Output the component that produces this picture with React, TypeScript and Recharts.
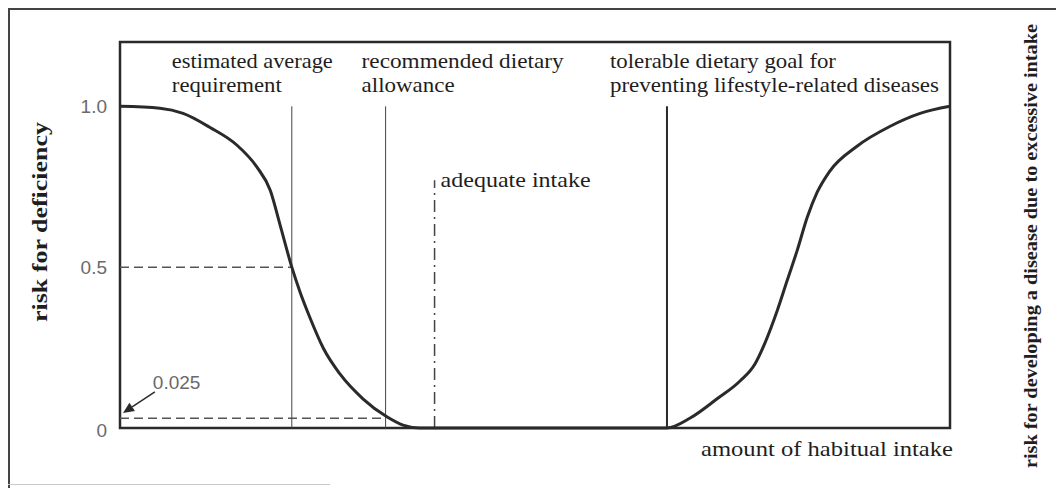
import React from 'react';
import {
    LineChart,
    Line,
    XAxis,
    YAxis,
    ReferenceLine,
    ReferenceArea,
} from 'recharts';

// amount of habitual intake (arbitrary 0-100 scale) and risk
const intake = [0, 4.8, 7.6, 10.8, 14.1, 16.5, 18.1, 19.3, 20.7, 21.7, 22.9, 24.5, 26.5, 29.3, 32.2, 34.1, 36.1,
    65.9, 68.7, 71.9, 74.7, 76.5, 77.7, 79.2, 80.4, 81.6, 82.8, 84.0, 85.5, 88.8, 92.8, 96.4, 100];
const risk = [1.0, 0.994, 0.978, 0.935, 0.879, 0.811, 0.739, 0.63, 0.5, 0.422, 0.342, 0.248, 0.168, 0.09, 0.034, 0.009, 0,
    0, 0.031, 0.09, 0.146, 0.199, 0.264, 0.366, 0.46, 0.553, 0.655, 0.733, 0.798, 0.876, 0.938, 0.978, 1.0];

const yTicks = [0, 0.5, 1];
const yTickLabels = ['0', '0.5', '1.0'];

// reference intakes
const EAR = 20.7;
const RDA = 32.0;
const AI = 37.9;
const DG = 65.9;
const AI_TOP = 0.77;
const LOW_RISK = 0.03;

const data = intake.map((x, i) => ({ x, risk: risk[i] }));

const INK = '#2a2a2a';
const TXT = '#1e1e1e';
const SERIF = 'Liberation Serif, Times New Roman, serif';
const SANS = 'Liberation Sans, Arial, sans-serif';

type Row = { text: string; len: number; dy: number };

const annotation = (rows: Row[], dx: number) => (props: any) => {
    const { x, y } = props.viewBox;
    return (
        <g>
            {rows.map((r) => (
                <text
                    key={r.text}
                    x={x + dx}
                    y={y + r.dy}
                    style={{ fontFamily: SERIF, fontSize: 21 }}
                    fill={TXT}
                    textLength={r.len}
                    lengthAdjust="spacingAndGlyphs"
                >
                    {r.text}
                </text>
            ))}
        </g>
    );
};

const leftTick = (props: any) => {
    const { x, y, payload } = props;
    const i = yTicks.indexOf(payload.value);
    return (
        <text x={x} y={y} dy={payload.value === 0 ? 9 : 7} textAnchor="end" style={{ fontFamily: SANS, fontSize: 19 }} fill="#6a6a6a">
            {yTickLabels[i]}
        </text>
    );
};

const rightTick = (props: any) => {
    const { x, y, payload } = props;
    const i = yTicks.indexOf(payload.value);
    return (
        <text x={payload.value === 0 ? x + 9 : x} y={y} dy={payload.value === 0 ? 10 : 7} textAnchor="start" style={{ fontFamily: SANS, fontSize: 19 }} fill="#6a6a6a">
            {yTickLabels[i]}
        </text>
    );
};

const arrowShape = (props: any) => {
    const { x1, y1, x2, y2 } = props;
    const ang = Math.atan2(y2 - y1, x2 - x1);
    const L = 11;
    const W = 5;
    const bx = x2 - L * Math.cos(ang);
    const by = y2 - L * Math.sin(ang);
    const px = -Math.sin(ang) * W;
    const py = Math.cos(ang) * W;
    return (
        <g>
            <line x1={x1} y1={y1} x2={bx} y2={by} stroke={INK} strokeWidth={1.5} />
            <polygon points={`${x2},${y2} ${bx + px},${by + py} ${bx - px},${by - py}`} fill={INK} />
            <text x={x1 - 2} y={y1 - 3} style={{ fontFamily: SANS, fontSize: 19 }} fill="#6a6a6a">0.025</text>
        </g>
    );
};

const App: React.FC = () => {
    return (
        <div style={{ position: 'absolute', left: 0, top: 0, width: 1056, height: 488, background: '#fff', overflow: 'hidden' }}>
            <div style={{ position: 'absolute', left: 8, top: 8, width: 1060, height: 490, borderTop: '2px solid #444', borderLeft: '2px solid #444' }} />
            <div style={{ position: 'absolute', left: 8, top: 484, width: 322, height: 0, borderTop: '1px solid #c8c8c8' }} />
            <div style={{ position: 'absolute', left: 0, top: 0 }}>
                <LineChart width={1056} height={488} data={data} margin={{ top: 42, right: 66, bottom: 30, left: 80 }}>
                    <XAxis
                        dataKey="x"
                        type="number"
                        domain={[0, 100]}
                        tick={false}
                        axisLine={false}
                        tickLine={false}
                        height={30}
                        label={{
                            content: (p: any) => (
                                <text
                                    x={p.viewBox.x + p.viewBox.width + 3}
                                    y={p.viewBox.y + 28}
                                    textAnchor="end"
                                    style={{ fontFamily: SERIF, fontSize: 21 }}
                                    fill={TXT}
                                    textLength={252}
                                    lengthAdjust="spacingAndGlyphs"
                                >
                                    amount of habitual intake
                                </text>
                            ),
                        }}
                    />
                    <YAxis
                        yAxisId="left"
                        domain={[0, 1.2]}
                        ticks={yTicks}
                        width={40}
                        axisLine={false}
                        tickLine={false}
                        tickSize={0}
                        tickMargin={13}
                        tick={leftTick}
                        label={{
                            content: (p: any) => (
                                <text
                                    transform={`translate(${p.viewBox.x - 33},222) rotate(-90)`}
                                    textAnchor="middle"
                                    style={{ fontFamily: SERIF, fontSize: 21, fontWeight: 'bold' }}
                                    fill={TXT}
                                    textLength={200}
                                    lengthAdjust="spacingAndGlyphs"
                                >
                                    risk for deficiency
                                </text>
                            ),
                        }}
                    />
                    <YAxis
                        yAxisId="right"
                        orientation="right"
                        domain={[0, 1.2]}
                        ticks={yTicks}
                        width={40}
                        axisLine={false}
                        tickLine={{ stroke: INK, strokeWidth: 2 }}
                        tickSize={5}
                        tickMargin={3}
                        tick={rightTick}
                        label={{
                            content: (p: any) => (
                                <text
                                    transform={`translate(${p.viewBox.x + 87},246) rotate(-90)`}
                                    textAnchor="middle"
                                    style={{ fontFamily: SERIF, fontSize: 19, fontWeight: 'bold' }}
                                    fill={TXT}
                                    textLength={444}
                                    lengthAdjust="spacingAndGlyphs"
                                >
                                    risk for developing a disease due to excessive intake
                                </text>
                            ),
                        }}
                    />

                    <ReferenceArea yAxisId="left" x1={0} x2={100} y1={0} y2={1.2} fill="none" stroke={INK} strokeWidth={2.5} />

                    <ReferenceLine
                        yAxisId="left"
                        segment={[{ x: 0, y: 0.5 }, { x: EAR, y: 0.5 }]}
                        stroke="#555"
                        strokeWidth={1.5}
                        strokeDasharray="9 5"
                    />
                    <ReferenceLine
                        yAxisId="left"
                        segment={[{ x: 0, y: LOW_RISK }, { x: RDA, y: LOW_RISK }]}
                        stroke="#555"
                        strokeWidth={1.5}
                        strokeDasharray="9 5"
                    />
                    <ReferenceLine
                        yAxisId="left"
                        segment={[{ x: EAR, y: 0 }, { x: EAR, y: 1 }]}
                        stroke="#444"
                        strokeWidth={1}
                        label={{
                            content: annotation([
                                { text: 'estimated average', len: 161, dy: -38 },
                                { text: 'requirement', len: 110, dy: -14 },
                            ], -120),
                        }}
                    />
                    <ReferenceLine
                        yAxisId="left"
                        segment={[{ x: RDA, y: 0 }, { x: RDA, y: 1 }]}
                        stroke="#444"
                        strokeWidth={1}
                        label={{
                            content: annotation([
                                { text: 'recommended dietary', len: 202, dy: -38 },
                                { text: 'allowance', len: 93, dy: -14 },
                            ], -24),
                        }}
                    />
                    <ReferenceLine
                        yAxisId="left"
                        segment={[{ x: AI, y: 0 }, { x: AI, y: AI_TOP }]}
                        stroke="#444"
                        strokeWidth={1.5}
                        strokeDasharray="12 5 2 5"
                        label={{
                            content: annotation([{ text: 'adequate intake', len: 150, dy: 7 }], 6),
                        }}
                    />
                    <ReferenceLine
                        yAxisId="left"
                        segment={[{ x: DG, y: 0 }, { x: DG, y: 1 }]}
                        stroke={INK}
                        strokeWidth={2}
                        label={{
                            content: annotation([
                                { text: 'tolerable dietary goal for', len: 226, dy: -38 },
                                { text: 'preventing lifestyle-related diseases', len: 329, dy: -14 },
                            ], -57),
                        }}
                    />
                    <ReferenceLine
                        yAxisId="left"
                        segment={[{ x: 4.2, y: 0.112 }, { x: 0.36, y: 0.047 }]}
                        shape={arrowShape}
                    />

                    <Line
                        yAxisId="left"
                        dataKey="risk"
                        type="monotone"
                        stroke={INK}
                        strokeWidth={3}
                        dot={false}
                        activeDot={false}
                        isAnimationActive={false}
                    />
                </LineChart>
            </div>
        </div>
    );
};

export default App;
